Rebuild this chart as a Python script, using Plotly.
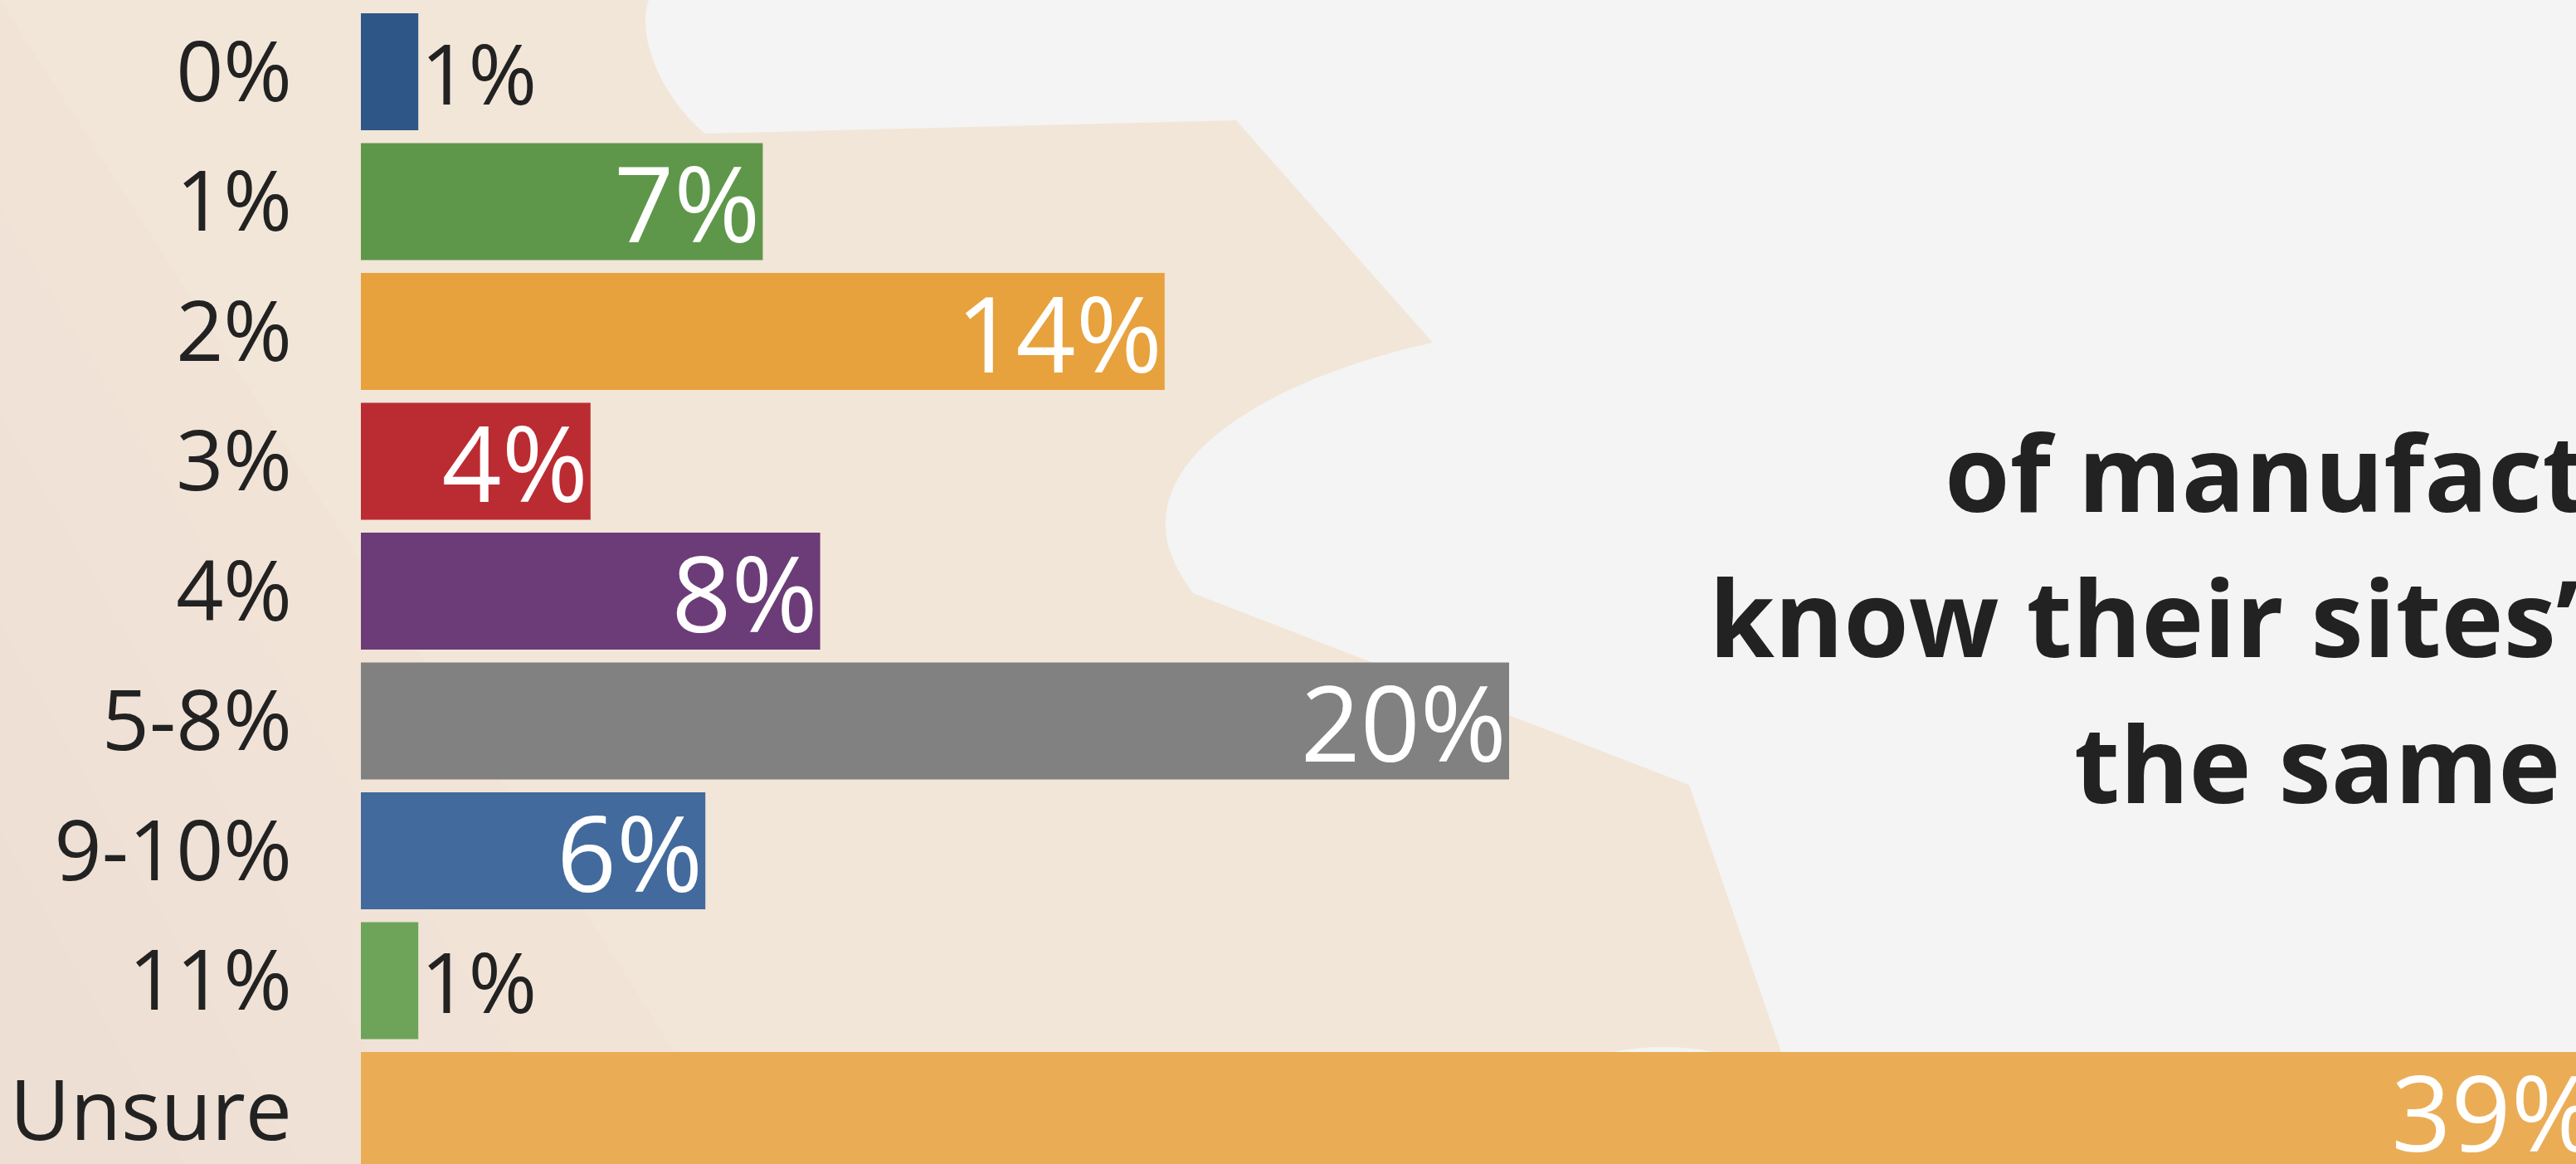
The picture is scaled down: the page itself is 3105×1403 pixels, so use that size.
import plotly.graph_objects as go

# ---- data ----
categories = ["0%", "1%", "2%", "3%", "4%", "5-8%", "9-10%", "11%", "Unsure"]
values = [1, 7, 14, 4, 8, 20, 6, 1, 39]
value_labels = ["1%", "7%", "14%", "4%", "8%", "20%", "6%", "1%", "39%"]
bar_colors = ["#2e5788", "#5e974a", "#e7a23d", "#bb2c32", "#6c3c78",
              "#808180", "#426a9c", "#6ea45a", "#eaad56"]
text_positions = ["outside", "inside", "inside", "inside", "inside",
                  "inside", "inside", "outside", "inside"]
headline_lines = ["of manufacturers", "know their sites\u2019", "the same"]

W, H = 3105, 1403
L = 435
PW = W - L


def px(x, y):
    return (x - L) / PW, 1 - y / H


def path(cmds):
    out = []
    for c in cmds:
        if isinstance(c, str):
            out.append(c)
        else:
            xp, yp = px(*c)
            out.append(f"{xp:.5f},{yp:.5f}")
    return " ".join(out)


fig = go.Figure()
fig.add_trace(go.Bar(
    x=values, y=categories, orientation="h",
    marker=dict(color=bar_colors, line=dict(width=0)),
    width=0.9,
    text=value_labels, textposition=text_positions,
    insidetextanchor="end", constraintext="none",
    insidetextfont=dict(family="Open Sans", size=126, color="white"),
    outsidetextfont=dict(family="Open Sans", size=100, color="#222222"),
    cliponaxis=True, hoverinfo="skip",
))

shapes = []
# beige background blob
blob = path([
    "M", (0, 0), "L", (782, 0),
    "C", (765, 50), (805, 125), (850, 161),
    "L", (1490, 145), "L", (1727, 413),
    "C", (1580, 445), (1410, 520), (1405, 627),
    "C", (1403, 660), (1420, 690), (1438, 715),
    "L", (2036, 946), "L", (2147, 1268), "L", (2200, 1403),
    "L", (0, 1403), "Z",
])
shapes.append(dict(type="path", xref="paper", yref="paper", path=blob,
                   fillcolor="#f2e6d8", line=dict(width=0), layer="below"))
# soft pinkish tint toward the lower-left corner (stacked faint triangles)
for ytop, xr in [(0, 900), (250, 700), (500, 520), (750, 360), (1000, 220)]:
    tri = path(["M", (0, ytop), "L", (xr, 1403), "L", (0, 1403), "Z"])
    shapes.append(dict(type="path", xref="paper", yref="paper", path=tri,
                       fillcolor="#ebd3cf", opacity=0.1, line=dict(width=0),
                       layer="below"))
# small grey bump near the bottom
x0, y1 = px(1880, 1262)
x1, y0 = px(2130, 1360)
shapes.append(dict(type="circle", xref="paper", yref="paper",
                   x0=x0, x1=x1, y0=y0, y1=y1,
                   fillcolor="#f4f4f4", line=dict(width=0), layer="below"))

annotations = []
fs = 127
for (lx, base), line in zip([(2342, 617), (2058, 792), (2498, 968)], headline_lines):
    cx, cy = px(lx, base - 0.388 * fs)
    annotations.append(dict(
        xref="paper", yref="paper", x=cx, y=cy, text=line, showarrow=False,
        xanchor="left", yanchor="middle",
        font=dict(family="Open Sans", size=fs, color="#222222", weight=700),
    ))

pitch = 156.5
r0 = -86.5 / pitch
r1 = r0 + H / pitch

fig.update_layout(
    width=W, height=H,
    margin=dict(l=L, r=0, t=0, b=0, pad=0),
    paper_bgcolor="#f4f4f4", plot_bgcolor="rgba(0,0,0,0)",
    showlegend=False,
    font=dict(family="Open Sans", color="#222222"),
    xaxis=dict(range=[0, PW / 69.2], visible=False, fixedrange=True),
    yaxis=dict(type="category", categoryorder="array", categoryarray=categories,
               range=[r1, r0], autorange=False, fixedrange=True,
               showgrid=False, zeroline=False, showline=False, ticks="",
               tickfont=dict(family="Open Sans", size=100, color="#222222"),
               ticklabelstandoff=82),
    shapes=shapes, annotations=annotations,
)

fig.write_html(
    "out.html",
    config={"displayModeBar": False},
    post_script="document.body.style.margin='0';document.body.style.overflow='hidden';",
)
